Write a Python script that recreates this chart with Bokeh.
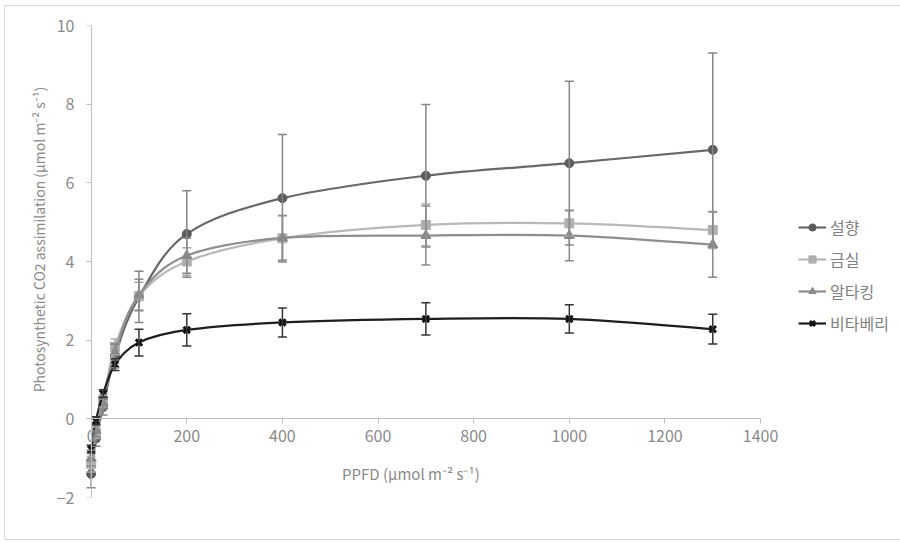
import numpy as np
from bokeh.plotting import figure
from bokeh.models import (ColumnDataSource, Whisker, TeeHead, Legend, LegendItem,
                          FixedTicker, Range1d, LinearAxis)
from bokeh.embed import file_html
from bokeh.resources import INLINE

# ---------------- data ----------------
ppfd = [0, 10, 25, 50, 100, 200, 400, 700, 1000, 1300]

seolhyang = [-1.40, -0.50, 0.30, 1.60, 3.10, 4.70, 5.61, 6.18, 6.50, 6.84]
seolhyang_sd = [0.35, 0.20, 0.20, 0.30, 0.65, 1.10, 1.62, 1.81, 2.08, 2.46]

geumsil = [-1.15, -0.35, 0.45, 1.83, 3.12, 4.00, 4.59, 4.93, 4.97, 4.80]
geumsil_sd = [0.20, 0.15, 0.15, 0.20, 0.35, 0.35, 0.57, 0.53, 0.32, 0.47]

altaking = [-1.00, -0.30, 0.40, 1.70, 3.15, 4.15, 4.60, 4.66, 4.66, 4.43]
altaking_sd = [0.20, 0.15, 0.15, 0.20, 0.40, 0.45, 0.57, 0.75, 0.64, 0.83]

vitaberry = [-0.77, -0.05, 0.64, 1.38, 1.94, 2.26, 2.45, 2.54, 2.54, 2.28]
vitaberry_sd = [0.10, 0.10, 0.10, 0.15, 0.34, 0.41, 0.37, 0.41, 0.36, 0.38]

names = ["설향", "금실", "알타킹", "비타베리"]
x_ticks = [0, 200, 400, 600, 800, 1000, 1200, 1400]
y_ticks = [-2, 0, 2, 4, 6, 8, 10]
x_title = "PPFD (μmol m⁻² s⁻¹)"
y_title = "Photosynthetic CO2 assimilation (μmol m⁻² s⁻¹)"

FONT = "Noto Sans CJK KR"
TXT = "#8a8a8a"
AX = "#bfbfbf"
NB = "\u00a0"

series = [
    (names[0], seolhyang, seolhyang_sd, "#686868", "#5c5c5c", "#858585", "circle", 9),
    (names[1], geumsil, geumsil_sd, "#b8b8b8", "#b0b0b0", "#a8a8a8", "square", 9),
    (names[2], altaking, altaking_sd, "#8e8e8e", "#888888", "#8a8a8a", "triangle", 10),
    (names[3], vitaberry, vitaberry_sd, "#1e1e1e", "#111111", "#333333", "x", 9),
]


def smooth_segments(xs, ys):
    """Bezier control points (Catmull-Rom style, like a spreadsheet's smoothed line)."""
    x = np.asarray(xs, float)
    y = np.asarray(ys, float)
    n = len(x)
    xp = np.concatenate([[x[0]], x, [x[-1]]])
    yp = np.concatenate([[y[0]], y, [y[-1]]])
    d = dict(x0=[], y0=[], x1=[], y1=[], cx0=[], cy0=[], cx1=[], cy1=[])
    for i in range(n - 1):
        j = i + 1
        d["x0"].append(xp[j]); d["y0"].append(yp[j])
        d["x1"].append(xp[j + 1]); d["y1"].append(yp[j + 1])
        d["cx0"].append(xp[j] + (xp[j + 1] - xp[j - 1]) / 6)
        d["cy0"].append(yp[j] + (yp[j + 1] - yp[j - 1]) / 6)
        d["cx1"].append(xp[j + 1] - (xp[j + 2] - xp[j]) / 6)
        d["cy1"].append(yp[j + 1] - (yp[j + 2] - yp[j]) / 6)
    return d


p = figure(
    output_backend="svg", toolbar_location=None,
    frame_width=701, frame_height=472,
    min_border_left=78, min_border_right=111, min_border_top=19, min_border_bottom=42,
    x_range=Range1d(-16, 1450), y_range=Range1d(-2, 10),
    background_fill_color="white", border_fill_color="white",
)
p.outline_line_color = None
p.grid.visible = False
p.styles = {"border": "1px solid #d9d9d9", "margin-left": "4px", "margin-top": "5px"}

# x axis drawn at y = 0
xa = p.xaxis[0]
xa.fixed_location = 0
xa.bounds = (0, 1400)
xa.ticker = FixedTicker(ticks=x_ticks)
xa.axis_label = x_title + NB * 9
xa.axis_line_color = AX
xa.major_tick_line_color = AX
xa.major_tick_out = 5
xa.major_tick_in = 0
xa.minor_tick_line_color = None
xa.major_label_text_color = TXT
xa.major_label_text_font = FONT
xa.major_label_text_font_size = "16px"
xa.major_label_standoff = 6
xa.axis_label_text_color = TXT
xa.axis_label_text_font = FONT
xa.axis_label_text_font_size = "15px"
xa.axis_label_text_font_style = "normal"
xa.axis_label_standoff = 18

# y axis: labels in the left panel
ya = p.yaxis[0]
ya.ticker = FixedTicker(ticks=y_ticks)
ya.axis_label = NB * 14 + y_title
ya.axis_line_color = None
ya.major_tick_line_color = None
ya.minor_tick_line_color = None
ya.major_label_text_color = TXT
ya.major_label_text_font = FONT
ya.major_label_text_font_size = "16px"
ya.major_label_standoff = 3
ya.axis_label_text_color = TXT
ya.axis_label_text_font = FONT
ya.axis_label_text_font_size = "14px"
ya.axis_label_text_font_style = "normal"
ya.axis_label_standoff = 5

# y axis line and ticks drawn at x = 0
ya2 = LinearAxis(fixed_location=0, bounds=(-2, 10), ticker=FixedTicker(ticks=y_ticks),
                 axis_line_color=AX, major_tick_line_color=AX, major_tick_out=5,
                 major_tick_in=0, minor_tick_line_color=None,
                 major_label_text_color=None)
p.add_layout(ya2, "left")

for name, vals, sd, lcol, mcol, ecol, marker, msize in series:
    upper = [v + s for v, s in zip(vals, sd)]
    lower = [v - s for v, s in zip(vals, sd)]
    esrc = ColumnDataSource(dict(x=ppfd, upper=upper, lower=lower))
    w = Whisker(base="x", upper="upper", lower="lower", source=esrc,
                dimension="height", line_color=ecol, line_width=1.5,
                upper_head=TeeHead(size=9, line_color=ecol, line_width=1.5),
                lower_head=TeeHead(size=9, line_color=ecol, line_width=1.5),
                level="glyph")
    p.add_layout(w)

items = []
for name, vals, sd, lcol, mcol, ecol, marker, msize in series:
    bsrc = ColumnDataSource(smooth_segments(ppfd, vals))
    br = p.bezier(x0="x0", y0="y0", x1="x1", y1="y1", cx0="cx0", cy0="cy0",
                  cx1="cx1", cy1="cy1", source=bsrc, line_color=lcol, line_width=2.2)
    psrc = ColumnDataSource(dict(x=ppfd, y=vals))
    if marker == "x":
        sr = p.scatter("x", "y", source=psrc, marker="x", size=msize,
                       line_color=mcol, line_width=3)
    else:
        sr = p.scatter("x", "y", source=psrc, marker=marker, size=msize,
                       fill_color=mcol, line_color=mcol)
    items.append(LegendItem(label=name, renderers=[br, sr]))

legend = Legend(items=items, location=(14, 162), orientation="vertical",
                padding=0, margin=0, spacing=8, glyph_width=28, glyph_height=18,
                label_height=18, label_standoff=4,
                label_text_font=FONT, label_text_font_size="16px",
                label_text_color="#7f7f7f",
                border_line_color=None, background_fill_alpha=0)
p.add_layout(legend, "right")

open("out.html", "w").write(file_html(p, INLINE))
